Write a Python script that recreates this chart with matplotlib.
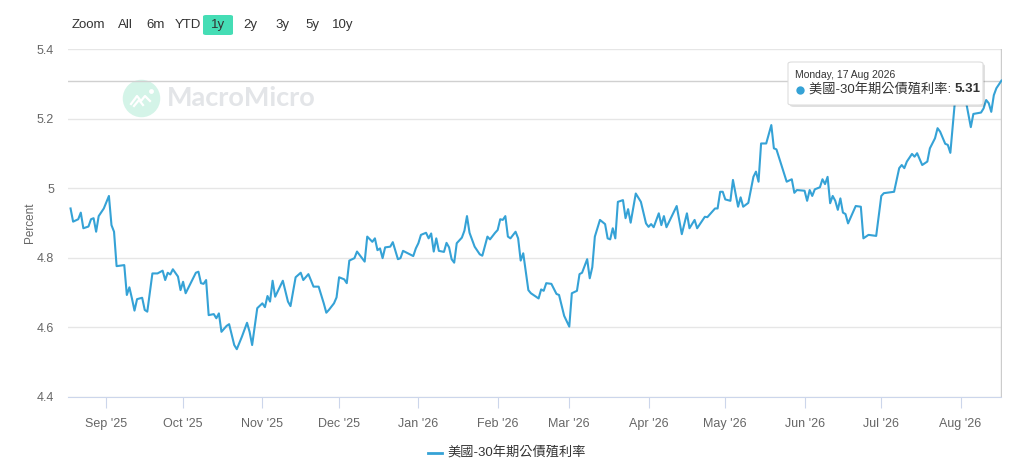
import matplotlib
matplotlib.use("Agg")
import matplotlib.pyplot as plt
import matplotlib.dates as mdates
from matplotlib.patches import FancyBboxPatch
import pandas as pd

# ---------------------------------------------------------------------------
# Data
# ---------------------------------------------------------------------------

START_DATE = "2025-08-17"
END_DATE = "2026-08-17"
SERIES_NAME = "美國-30年期公債殖利率"

# days after START_DATE for each point of the line
day_offsets = [
    1, 2, 4, 5, 6, 8, 9, 10, 11, 12, 14, 16, 17, 18, 19, 22, 23, 24, 25, 26,
    27, 29, 30, 31, 33, 35, 37, 38, 39, 40, 41, 43, 44, 45, 46, 50, 51, 52, 53, 54,
    55, 57, 58, 59, 60, 62, 63, 65, 66, 68, 70, 71, 72, 74, 76, 77, 78, 79, 80, 81,
    84, 86, 87, 89, 91, 92, 94, 96, 98, 100, 101, 102, 104, 105, 106, 108, 109, 110, 112, 113,
    116, 117, 119, 120, 121, 122, 123, 124, 126, 127, 129, 130, 131, 135, 136, 137, 138, 140, 141, 142,
    143, 144, 145, 147, 148, 149, 150, 151, 152, 154, 155, 156, 157, 159, 161, 162, 164, 165, 167, 168,
    169, 170, 171, 172, 173, 175, 176, 177, 178, 180, 181, 184, 185, 186, 187, 189, 191, 192, 194, 196,
    197, 199, 200, 201, 203, 204, 205, 206, 208, 210, 211, 212, 213, 214, 215, 217, 218, 219, 220, 222,
    224, 226, 227, 228, 229, 231, 232, 233, 234, 238, 240, 242, 243, 245, 246, 249, 250, 253, 254, 255,
    256, 257, 259, 260, 262, 263, 264, 266, 268, 269, 270, 271, 273, 275, 276, 277, 281, 283, 284, 285,
    288, 289, 290, 291, 292, 294, 295, 296, 297, 298, 299, 300, 301, 302, 303, 304, 305, 308, 310, 311,
    313, 316, 318, 319, 323, 325, 326, 327, 328, 330, 331, 332, 334, 336, 337, 339, 340, 341, 343, 344,
    345, 347, 349, 351, 353, 354, 357, 358, 359, 360, 361, 362, 363, 365,
]

yield_pct = [
    4.942, 4.904, 4.911, 4.930, 4.885, 4.890, 4.911, 4.914, 4.875, 4.920, 4.942, 4.978, 4.894, 4.875, 4.776, 4.779, 4.693, 4.715, 4.683, 4.648,
    4.681, 4.685, 4.650, 4.645, 4.755, 4.755, 4.763, 4.736, 4.757, 4.752, 4.767, 4.746, 4.707, 4.731, 4.698, 4.757, 4.760, 4.727, 4.725, 4.736,
    4.635, 4.638, 4.626, 4.640, 4.587, 4.604, 4.609, 4.549, 4.537, 4.573, 4.613, 4.587, 4.549, 4.655, 4.669, 4.658, 4.690, 4.674, 4.734, 4.688,
    4.734, 4.674, 4.661, 4.744, 4.757, 4.736, 4.753, 4.717, 4.717, 4.669, 4.642, 4.650, 4.669, 4.686, 4.744, 4.738, 4.727, 4.792, 4.799, 4.818,
    4.789, 4.861, 4.846, 4.856, 4.822, 4.827, 4.799, 4.830, 4.832, 4.845, 4.796, 4.799, 4.820, 4.805, 4.827, 4.842, 4.866, 4.872, 4.856, 4.870,
    4.818, 4.856, 4.820, 4.817, 4.843, 4.830, 4.796, 4.786, 4.842, 4.858, 4.878, 4.920, 4.872, 4.832, 4.810, 4.806, 4.861, 4.853, 4.872, 4.880,
    4.911, 4.909, 4.920, 4.861, 4.856, 4.875, 4.856, 4.792, 4.813, 4.707, 4.698, 4.683, 4.709, 4.705, 4.727, 4.725, 4.696, 4.693, 4.633, 4.602,
    4.698, 4.705, 4.753, 4.757, 4.796, 4.741, 4.773, 4.861, 4.909, 4.897, 4.856, 4.853, 4.885, 4.856, 4.961, 4.966, 4.914, 4.940, 4.901, 4.985,
    4.961, 4.899, 4.889, 4.897, 4.888, 4.928, 4.894, 4.920, 4.888, 4.949, 4.868, 4.928, 4.885, 4.909, 4.885, 4.918, 4.917, 4.942, 4.942, 4.990,
    4.990, 4.968, 4.964, 5.024, 4.947, 4.974, 4.947, 4.958, 5.033, 5.048, 5.019, 5.129, 5.129, 5.182, 5.115, 5.112, 5.019, 5.026, 4.987, 4.995,
    4.993, 4.964, 4.995, 4.978, 4.997, 5.003, 5.026, 5.012, 5.033, 4.957, 4.978, 4.964, 4.938, 4.971, 4.930, 4.926, 4.899, 4.949, 4.947, 4.856,
    4.866, 4.863, 4.978, 4.986, 4.990, 5.058, 5.067, 5.058, 5.077, 5.099, 5.091, 5.101, 5.067, 5.077, 5.115, 5.144, 5.173, 5.163, 5.128, 5.125,
    5.102, 5.268, 5.290, 5.254, 5.176, 5.214, 5.218, 5.230, 5.254, 5.245, 5.220, 5.268, 5.288, 5.310,
]

y_ticks = [4.4, 4.6, 4.8, 5.0, 5.2, 5.4]
y_tick_labels = ["4.4", "4.6", "4.8", "5", "5.2", "5.4"]
range_buttons = ["Zoom", "All", "6m", "YTD", "1y", "2y", "3y", "5y", "10y"]
active_button = "1y"

# ---------------------------------------------------------------------------
# Style
# ---------------------------------------------------------------------------

LINE_COLOR = "#35a2d6"
GRID_COLOR = "#e6e6e6"
AXIS_COLOR = "#ccd6eb"
TEXT_COLOR = "#666666"
DARK_TEXT = "#333333"

plt.rcParams["font.family"] = ["Liberation Sans", "Noto Sans CJK TC", "DejaVu Sans"]

W, H = 1024, 472


def fx(px):
    return px / W


def fy(py):
    return 1 - py / H


def dot(fig, px, py, size, color, z):
    """Round marker placed in figure pixel coordinates (stays circular)."""
    fig.add_artist(plt.Line2D([fx(px)], [fy(py)], marker="o", markersize=size,
                              markerfacecolor=color, markeredgecolor="none",
                              linestyle="none", transform=fig.transFigure, zorder=z))


# ---------------------------------------------------------------------------
# Figure
# ---------------------------------------------------------------------------

dates = pd.Timestamp(START_DATE) + pd.to_timedelta(day_offsets, unit="D")

fig = plt.figure(figsize=(W / 100, H / 100), dpi=100)
fig.patch.set_facecolor("white")
ax = fig.add_axes([fx(68), fy(396.8), fx(1001.5) - fx(68), fy(49.3) - fy(396.8)])
ax.set_facecolor("none")
ax.set_zorder(2)

ax.plot(dates, yield_pct, color=LINE_COLOR, linewidth=1.5, zorder=3,
        solid_joinstyle="round")

ax.set_xlim(pd.Timestamp(START_DATE), pd.Timestamp(END_DATE))
ax.set_ylim(4.4, 5.4)
ax.set_yticks(y_ticks)
ax.set_yticklabels(y_tick_labels)
ax.grid(axis="y", color=GRID_COLOR, linewidth=1)
ax.set_axisbelow(True)

ax.xaxis.set_major_locator(mdates.MonthLocator())
ax.xaxis.set_major_formatter(mdates.DateFormatter("%b '%y"))
ax.tick_params(axis="x", length=8, color=AXIS_COLOR, labelcolor=TEXT_COLOR,
               labelsize=9, pad=7)
ax.tick_params(axis="y", length=0, labelcolor=TEXT_COLOR, labelsize=9, pad=10)

for side in ("left", "top", "right"):
    ax.spines[side].set_visible(False)
ax.spines["bottom"].set_color(AXIS_COLOR)

ax.set_ylabel("Percent", color=TEXT_COLOR, fontsize=8.5)
ax.yaxis.set_label_coords((36 - 68) / (1001.5 - 68), 0.5)

# crosshairs at the hovered point
last_date = dates[-1]
ax.axvline(last_date, color="#cccccc", linewidth=1, zorder=2)
ax.axhline(yield_pct[-1], color="#d0d0d0", linewidth=1, zorder=2)

# watermark
dot(fig, 141, 98, 27, "#d4f4e8", 1)
fig.add_artist(plt.Line2D([fx(p) for p in (131, 137, 141, 145, 150)],
                          [fy(p) for p in (104, 96, 101, 96, 101)],
                          color="white", linewidth=1.6, transform=fig.transFigure,
                          zorder=1.1))
fig.add_artist(plt.Line2D([fx(p) for p in (134, 139, 143)],
                          [fy(p) for p in (106, 100, 105)],
                          color="white", linewidth=1.6, transform=fig.transFigure,
                          zorder=1.1))
dot(fig, 150.5, 91, 3.5, "white", 1.2)
fig.text(fx(167), fy(98.5), "MacroMicro", fontsize=19.5, color="#e3e5e8",
         va="center", ha="left", fontweight="bold", family="Lato", zorder=1)

# range selector buttons
button_x = [88, 125, 156, 188, 218, 250, 282, 312, 343]
for label, bx in zip(range_buttons, button_x):
    if label == active_button:
        fig.patches.append(FancyBboxPatch(
            (fx(bx - 15), fy(35)), 30 / W, 20 / H, transform=fig.transFigure,
            boxstyle="round,pad=0,rounding_size=0.003",
            facecolor="#45ddb5", edgecolor="none"))
    fig.text(fx(bx), fy(25), label, fontsize=9.5, color=DARK_TEXT,
             ha="center", va="center")

# tooltip
tip_x0, tip_y0, tip_x1, tip_y1 = 788, 62, 983, 105
fig.patches.append(FancyBboxPatch(
    (fx(tip_x0 + 2), fy(tip_y1 + 2)), (tip_x1 - tip_x0) / W, (tip_y1 - tip_y0) / H,
    transform=fig.transFigure, boxstyle="round,pad=0,rounding_size=0.004",
    facecolor="#000000", alpha=0.12, edgecolor="none", zorder=5))
fig.patches.append(FancyBboxPatch(
    (fx(tip_x0), fy(tip_y1)), (tip_x1 - tip_x0) / W, (tip_y1 - tip_y0) / H,
    transform=fig.transFigure, boxstyle="round,pad=0,rounding_size=0.004",
    facecolor="white", edgecolor="#dddddd", linewidth=0.8, zorder=6))
tip_date = pd.Timestamp(END_DATE)
fig.text(fx(795), fy(74.5), f"{tip_date:%A}, {tip_date.day} {tip_date:%b %Y}",
         fontsize=7.5, color=DARK_TEXT, va="center", zorder=7)
dot(fig, 800, 89.5, 6, LINE_COLOR, 7)
name_txt = fig.text(fx(809), fy(89.5), f"{SERIES_NAME}: ", fontsize=9.5,
                    color=DARK_TEXT, va="center", zorder=7)
fig.canvas.draw()
bb = name_txt.get_window_extent()
fig.text(bb.x1 / W, fy(89.5), f"{yield_pct[-1]:.2f}", fontsize=9.5,
         color=DARK_TEXT, va="center", fontweight="bold", zorder=7)

# legend
fig.add_artist(plt.Line2D([fx(428), fx(442)], [fy(453), fy(453)],
                          color=LINE_COLOR, linewidth=2, transform=fig.transFigure))
fig.text(fx(447), fy(453), SERIES_NAME, fontsize=9.5, color=DARK_TEXT,
         va="center", ha="left")

fig.savefig("out.png", dpi=100, facecolor="white")
plt.close(fig)
